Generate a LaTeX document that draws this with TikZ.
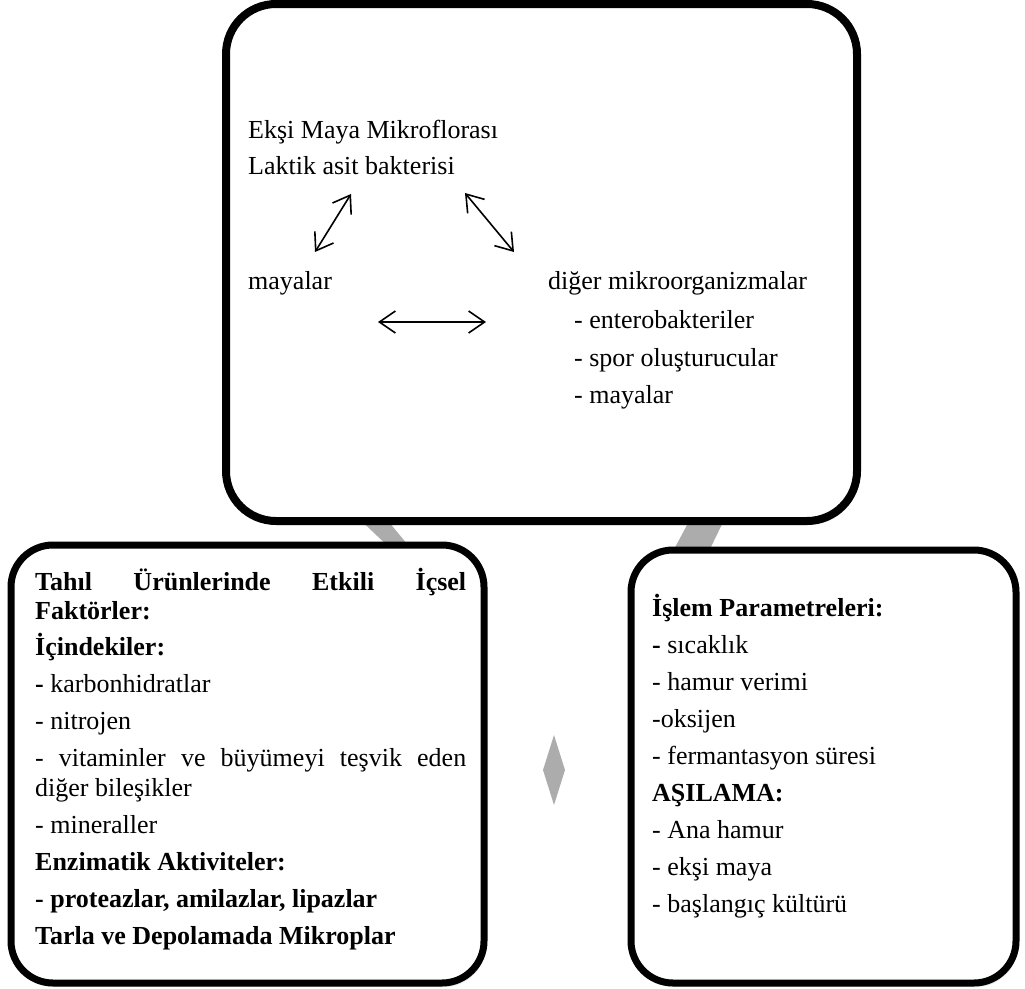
\documentclass[tikz,border=0pt]{standalone}
\usepackage{fontspec}
\setmainfont{Liberation Serif}
\usetikzlibrary{arrows.meta,shadows}
\begin{document}
\begin{tikzpicture}[x=1pt,y=-1pt,
  txt/.style={anchor=base west, inner sep=0pt, font=\fontsize{26}{30}\selectfont},
  bx/.style={draw=black, line width=7pt, rounded corners=42pt, fill=white,
    drop shadow={opacity=0.18, shadow xshift=2pt, shadow yshift=-4pt}},
  link/.style={fill=gray!65, draw=none},
  dbl/.style={line width=1.6pt, arrows={Straight Barb[length=16pt,width=22pt]-Straight Barb[length=16pt,width=22pt]}}
]
\useasboundingbox (0,0) rectangle (1025,988);
% gray connectors between boxes
\fill[link] (352,512) -- (384,516) -- (412,550) -- (392,550) -- cycle;
\fill[link] (694,512) -- (728,512) -- (708,553) -- (672,553) -- cycle;
% boxes
\node[bx, line width=8pt, rounded corners=50pt, minimum width=631pt, minimum height=517pt] (top) at (541.5,262.5) {};
\node[bx, minimum width=473pt, minimum height=438pt] (left) at (247.5,764) {};
\node[bx, minimum width=385pt, minimum height=433pt] (right) at (823.5,766.5) {};
% middle diamond
\fill[link] (554,735) -- (565,770) -- (554,805) -- (543,770) -- cycle;
% top box text
\node[txt] (t1) at (248,138) {Ekşi Maya Mikroflorası};
\node[txt] (t2) at (248,174) {Laktik asit bakterisi};
\node[txt] (t3) at (248,289) {mayalar};
\node[txt] (t4) at (548,289) {diğer mikroorganizmalar};
\node[txt] (t5) at (574,328) {- enterobakteriler};
\node[txt] (t6) at (574,366) {- spor oluşturucular};
\node[txt] (t7) at (574,403) {- mayalar};
% arrows
\coordinate (a1s) at (315,252);
\coordinate (a1e) at (351,194);
\coordinate (a2s) at (465,193);
\coordinate (a2e) at (514,252);
\coordinate (a3s) at (378,322);
\coordinate (a3e) at (486,322);
\draw[dbl] (a1s) -- (a1e);
\draw[dbl] (a2s) -- (a2e);
\draw[dbl] (a3s) -- (a3e);
% left box text
\node[txt] (l1) at (35,590) {\bfseries\makebox[431pt][s]{Tahıl Ürünlerinde Etkili İçsel}};
\node[txt] (l2) at (35,619) {\bfseries Faktörler:};
\node[txt] (l3) at (35,655) {\bfseries İçindekiler:};
\node[txt] (l4) at (35,692) {\textbf{-} karbonhidratlar};
\node[txt] (l5) at (35,729) {- nitrojen};
\node[txt] (l6) at (35,766) {\makebox[431pt][s]{- vitaminler ve büyümeyi teşvik eden}};
\node[txt] (l7) at (35,796) {diğer bileşikler};
\node[txt] (l8) at (35,833) {- mineraller};
\node[txt] (l9) at (35,870) {\bfseries Enzimatik Aktiviteler:};
\node[txt] (l10) at (35,907) {\bfseries - proteazlar, amilazlar, lipazlar};
\node[txt] (l11) at (35,944) {\bfseries Tarla ve Depolamada Mikroplar};
% right box text
\node[txt] (r1) at (652,616) {\bfseries İşlem Parametreleri:};
\node[txt] (r2) at (652,653) {\textbf{-} sıcaklık};
\node[txt] (r3) at (652,690) {- hamur verimi};
\node[txt] (r4) at (652,727) {-oksijen};
\node[txt] (r5) at (652,764) {- fermantasyon süresi};
\node[txt] (r6) at (652,801) {\bfseries AŞILAMA:};
\node[txt] (r7) at (652,838) {- Ana hamur};
\node[txt] (r8) at (652,875) {- ekşi maya};
\node[txt] (r9) at (652,912) {- başlangıç kültürü};
\end{tikzpicture}
\end{document}
